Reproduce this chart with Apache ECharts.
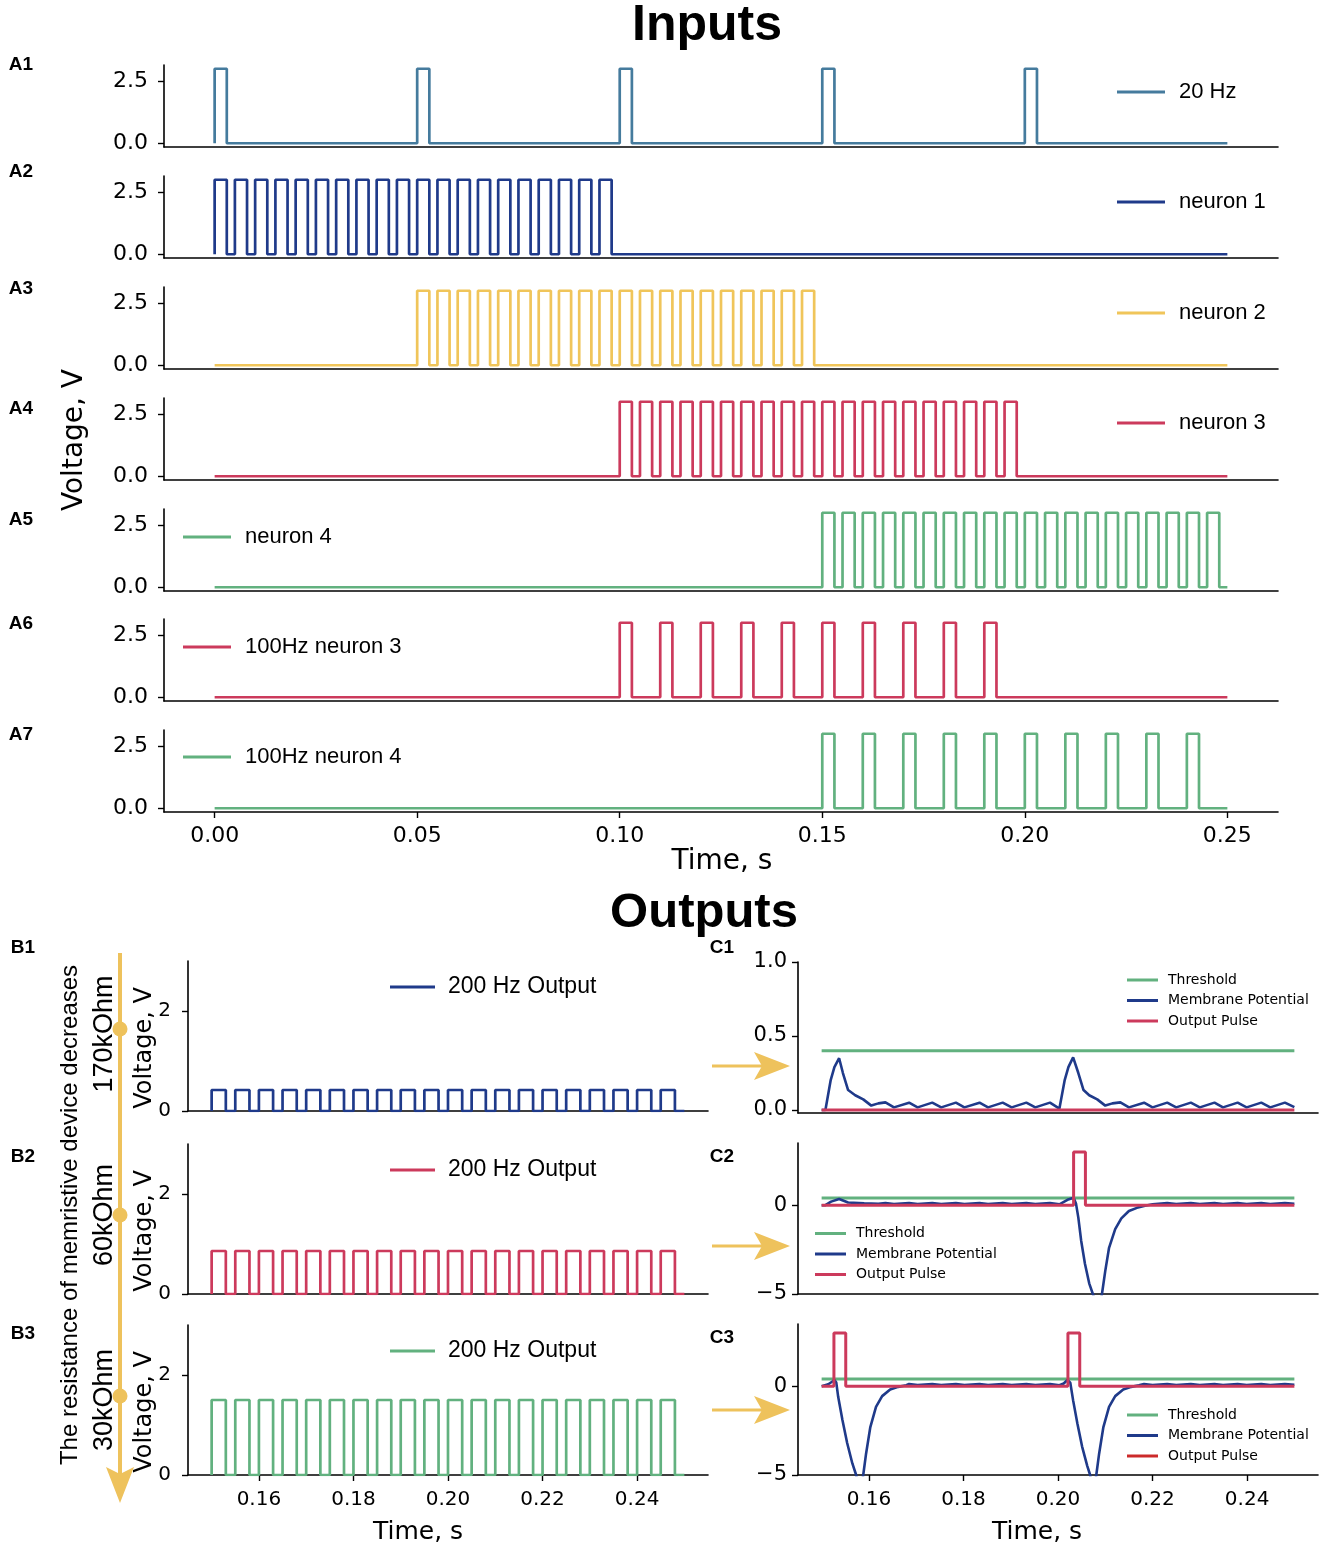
<!DOCTYPE html>
<html><head><meta charset="utf-8">
<script src="https://cdn.jsdelivr.net/npm/echarts@6/dist/echarts.min.js"></script>
<style>html,body{margin:0;padding:0;background:#fff}#c{width:1325px;height:1552px}</style>
</head><body><div id="c"></div>
<script>
// ================= DATA =================
// Inputs (A1-A7): pulse onset times (s), amplitude 3 V, pulse width 3 ms, window 0–0.25 s
const inputWindow = [0.00, 0.25];
const inputAmplitude = 3.0;
const inputPulseWidth = 0.003;
const onsets20Hz = [0.00, 0.05, 0.10, 0.15, 0.20];
const onsetsNeuron1 = [0.000,0.005,0.010,0.015,0.020,0.025,0.030,0.035,0.040,0.045,0.050,0.055,0.060,0.065,0.070,0.075,0.080,0.085,0.090,0.095];
const onsetsNeuron2 = [0.050,0.055,0.060,0.065,0.070,0.075,0.080,0.085,0.090,0.095,0.100,0.105,0.110,0.115,0.120,0.125,0.130,0.135,0.140,0.145];
const onsetsNeuron3 = [0.100,0.105,0.110,0.115,0.120,0.125,0.130,0.135,0.140,0.145,0.150,0.155,0.160,0.165,0.170,0.175,0.180,0.185,0.190,0.195];
const onsetsNeuron4 = [0.150,0.155,0.160,0.165,0.170,0.175,0.180,0.185,0.190,0.195,0.200,0.205,0.210,0.215,0.220,0.225,0.230,0.235,0.240,0.245];
const onsets100HzNeuron3 = [0.10,0.11,0.12,0.13,0.14,0.15,0.16,0.17,0.18,0.19];
const onsets100HzNeuron4 = [0.15,0.16,0.17,0.18,0.19,0.20,0.21,0.22,0.23,0.24];
const inputTimeTicks = [0.00, 0.05, 0.10, 0.15, 0.20, 0.25];
const inputVoltTicks = [0.0, 2.5];

// Outputs (B1-B3): 200 Hz output pulses, amplitude depends on memristor resistance
const outputWindow = [0.15, 0.25];
const outputPulseWidth = 0.003;
const outputOnsets = [0.150,0.155,0.160,0.165,0.170,0.175,0.180,0.185,0.190,0.195,0.200,0.205,0.210,0.215,0.220,0.225,0.230,0.235,0.240,0.245];
const outputAmplitudes = [0.42, 0.86, 1.50];   // 170kOhm, 60kOhm, 30kOhm
const resistanceLabels = ['170kOhm', '60kOhm', '30kOhm'];
const outputTimeTicks = [0.16, 0.18, 0.20, 0.22, 0.24];
const outputVoltTicks = [0, 2];

// C1-C3: threshold, membrane potential [t, V], output spikes
const thresholdLevel = 0.4;
const spikeAmplitude = 3.0;
const spikeWidth = 0.0025;
const spikeOnsetsC1 = [];
const spikeOnsetsC2 = [0.2033];
const spikeOnsetsC3 = [0.1526, 0.2021];
const membraneC1 = [[0.1500,0.000],[0.1508,0.000],[0.1519,0.200],[0.1527,0.290],[0.1537,0.350],[0.1545,0.250],[0.1556,0.135],[0.1571,0.100],[0.1588,0.072],[0.1605,0.030],[0.1620,0.045],[0.1635,0.052],[0.1653,0.018],[0.1685,0.050],[0.1703,0.018],[0.1734,0.050],[0.1753,0.018],[0.1784,0.050],[0.1802,0.018],[0.1834,0.050],[0.1852,0.018],[0.1883,0.050],[0.1902,0.018],[0.1933,0.050],[0.1952,0.018],[0.1983,0.050],[0.2003,0.010],[0.2014,0.200],[0.2022,0.290],[0.2032,0.356],[0.2043,0.250],[0.2054,0.135],[0.2066,0.100],[0.2083,0.072],[0.2100,0.030],[0.2115,0.045],[0.2132,0.052],[0.2150,0.018],[0.2182,0.050],[0.2200,0.018],[0.2231,0.050],[0.2250,0.018],[0.2281,0.050],[0.2300,0.018],[0.2331,0.050],[0.2349,0.018],[0.2380,0.050],[0.2399,0.018],[0.2430,0.050],[0.2449,0.018],[0.2480,0.050],[0.2500,0.020]];
const membraneC2 = [[0.1500,0.00],[0.1508,0.00],[0.1520,0.20],[0.1537,0.35],[0.1556,0.15],[0.1590,0.10],[0.1620,0.08],[0.1635,0.12],[0.1653,0.06],[0.1685,0.12],[0.1703,0.06],[0.1734,0.12],[0.1753,0.06],[0.1784,0.12],[0.1802,0.06],[0.1834,0.12],[0.1852,0.06],[0.1883,0.12],[0.1902,0.06],[0.1933,0.12],[0.1952,0.06],[0.1983,0.12],[0.2003,0.05],[0.2020,0.30],[0.2033,0.42],[0.2038,0.10],[0.2043,-0.70],[0.2049,-2.00],[0.2057,-3.30],[0.2066,-4.40],[0.2075,-5.10],[0.2084,-6.30],[0.2093,-5.00],[0.2100,-3.70],[0.2108,-2.40],[0.2121,-1.35],[0.2134,-0.74],[0.2150,-0.33],[0.2167,-0.15],[0.2184,-0.03],[0.2200,0.05],[0.2231,0.12],[0.2250,0.06],[0.2281,0.12],[0.2300,0.06],[0.2331,0.12],[0.2349,0.06],[0.2380,0.12],[0.2399,0.06],[0.2430,0.12],[0.2449,0.06],[0.2480,0.12],[0.2500,0.08]];
const membraneC3 = [[0.1500,0.00],[0.1514,0.11],[0.1522,0.25],[0.1527,0.35],[0.1531,0.20],[0.1535,-0.60],[0.1544,-1.90],[0.1554,-3.20],[0.1565,-4.35],[0.1573,-5.00],[0.1581,-6.20],[0.1588,-5.00],[0.1594,-3.80],[0.1603,-2.30],[0.1615,-1.16],[0.1628,-0.56],[0.1645,-0.19],[0.1662,-0.04],[0.1679,0.05],[0.1685,0.12],[0.1703,0.06],[0.1734,0.12],[0.1753,0.06],[0.1784,0.12],[0.1802,0.06],[0.1834,0.12],[0.1852,0.06],[0.1883,0.12],[0.1902,0.06],[0.1933,0.12],[0.1952,0.06],[0.1983,0.12],[0.2003,0.05],[0.2012,0.15],[0.2020,0.35],[0.2026,0.20],[0.2032,-0.80],[0.2041,-2.10],[0.2051,-3.40],[0.2062,-4.50],[0.2068,-5.00],[0.2075,-6.20],[0.2081,-5.00],[0.2087,-3.80],[0.2096,-2.30],[0.2108,-1.16],[0.2121,-0.56],[0.2138,-0.19],[0.2155,-0.04],[0.2171,0.05],[0.2182,0.12],[0.2200,0.06],[0.2231,0.12],[0.2250,0.06],[0.2281,0.12],[0.2300,0.06],[0.2331,0.12],[0.2349,0.06],[0.2380,0.12],[0.2399,0.06],[0.2430,0.12],[0.2449,0.06],[0.2480,0.12],[0.2500,0.08]];
const c1VoltTicks = [0.0, 0.5, 1.0];
const c23VoltTicks = [-5, 0];

// ================= BUILD =================
function pulseTrain(onsets, width, amp, t0, t1) {
  const pts = [[t0, 0]];
  onsets.forEach(s => { pts.push([s, 0], [s, amp], [s + width, amp], [s + width, 0]); });
  pts.push([t1, 0]);
  return pts;
}
const C = {
  steel: '#457b9d', navy: '#1f3a8a', yellow: '#f0c55a', crimson: '#cc3a5c',
  green: '#62b17f', red: '#cc2a2a', arrow: '#eec25c'
};
const TICK_FONT = 'DejaVu Sans';
const minusFmt = v => (v < 0 ? '\u2212' + Math.abs(v) : String(v));

const grids = [], xAxes = [], yAxes = [], series = [], legends = [], graphics = [];

function addPanel(p) {
  const i = grids.length;
  grids.push({left: p.left, top: p.top, width: p.width, height: p.height, containLabel: false, outerBoundsMode: 'none'});
  xAxes.push({
    type: 'value', gridIndex: i, min: p.xMin, max: p.xMax,
    axisLine: {show: true, onZero: false, lineStyle: {color: '#000', width: 1.6}},
    axisTick: {show: p.showX, customValues: p.xTicks, length: 6, lineStyle: {color: '#000', width: 1.4}},
    axisLabel: {show: p.showX, customValues: p.xTicks, formatter: v => v.toFixed(2), margin: p.xMargin,
      fontFamily: TICK_FONT, fontSize: p.xFs, color: '#000'},
    splitLine: {show: false}
  });
  yAxes.push({
    type: 'value', gridIndex: i, min: p.yMin, max: p.yMax,
    axisLine: {show: true, onZero: false, lineStyle: {color: '#000', width: 1.6}},
    axisTick: {show: true, customValues: p.yTicks, length: 6, lineStyle: {color: '#000', width: 1.4}},
    axisLabel: {show: true, customValues: p.yTicks, formatter: p.yFmt, margin: p.yMargin,
      fontFamily: TICK_FONT, fontSize: p.yFs, color: '#000'},
    splitLine: {show: false}
  });
  return i;
}
function addLine(i, name, data, color, width, z) {
  series.push({
    type: 'line', name, xAxisIndex: i, yAxisIndex: i, data, color,
    showSymbol: false, symbol: 'none', clip: true, z: z || 2,
    lineStyle: {color, width: width || 2.5}, itemStyle: {color}, animation: false
  });
}
function addLegend(items, left, cy, opt) {
  const L = opt.fs + 2;
  legends.push({
    orient: 'vertical', left, top: cy - L / 2, padding: 0, itemGap: opt.rowGap ? opt.rowGap - L : 0,
    icon: 'rect', itemWidth: opt.iw, itemHeight: 3, selectedMode: false,
    textStyle: {fontFamily: opt.font, fontSize: opt.fs, color: '#000', lineHeight: L, padding: [0, 0, 0, opt.gap]},
    data: items.map(it => ({name: it.name, icon: 'rect', itemStyle: {color: it.color}, lineStyle: {color: it.color}}))
  });
}
function txt(text, x, y, font, rot) {
  graphics.push({type: 'text', x, y, rotation: rot || 0, z: 100,
    style: {text, font, fill: '#000', align: 'center', verticalAlign: 'middle', textAlign: 'center', textVerticalAlign: 'middle'}});
}

// ---- Inputs ----
const inputs = [
  {name: '20 Hz', onsets: onsets20Hz, color: C.steel, lg: [1117, 92]},
  {name: 'neuron 1', onsets: onsetsNeuron1, color: C.navy, lg: [1117, 202]},
  {name: 'neuron 2', onsets: onsetsNeuron2, color: C.yellow, lg: [1117, 313]},
  {name: 'neuron 3', onsets: onsetsNeuron3, color: C.crimson, lg: [1117, 423]},
  {name: 'neuron 4', onsets: onsetsNeuron4, color: C.green, lg: [183, 537]},
  {name: '100Hz neuron 3', onsets: onsets100HzNeuron3, color: C.crimson, lg: [183, 647]},
  {name: '100Hz neuron 4', onsets: onsets100HzNeuron4, color: C.green, lg: [183, 757]}
];
const topTops = [65, 176, 287, 398, 509, 619, 730];
const topLabelY = [65, 172, 289, 409, 520, 624, 735];
inputs.forEach((s, k) => {
  const i = addPanel({left: 164, top: topTops[k], width: 1114, height: 82,
    xMin: -0.0125, xMax: 0.2625, yMin: -0.15, yMax: 3.15,
    xTicks: inputTimeTicks, yTicks: inputVoltTicks, showX: k === 6,
    yFmt: v => v.toFixed(1), xFs: 22, yFs: 22, xMargin: 13, yMargin: 16});
  addLine(i, s.name, pulseTrain(s.onsets, inputPulseWidth, inputAmplitude, inputWindow[0], inputWindow[1]), s.color, 2.7);
  addLegend([{name: s.name, color: s.color}], s.lg[0], s.lg[1], {fs: 22, font: 'Liberation Sans', iw: 48, gap: 9});
  txt('A' + (k + 1), 21, topLabelY[k], 'bold 19px "Liberation Sans"');
});

// ---- Outputs B ----
const bTops = [961, 1144, 1325];
const bColors = [C.navy, C.crimson, C.green];
const bLegendY = [987, 1170, 1351];
const bLabelY = [948, 1157, 1334];
outputAmplitudes.forEach((amp, k) => {
  const i = addPanel({left: 188, top: bTops[k], width: 520, height: 150,
    xMin: 0.145, xMax: 0.255, yMin: 0, yMax: 3,
    xTicks: outputTimeTicks, yTicks: outputVoltTicks, showX: k === 2,
    yFmt: v => String(v), xFs: 20, yFs: 20, xMargin: 15, yMargin: 17});
  addLine(i, '200 Hz Output', pulseTrain(outputOnsets, outputPulseWidth, amp, outputWindow[0], outputWindow[1]), bColors[k], 2.7);
  addLegend([{name: '200 Hz Output', color: bColors[k]}], 390, bLegendY[k], {fs: 23, font: 'Liberation Sans', iw: 45, gap: 8});
  txt('B' + (k + 1), 23, bLabelY[k], 'bold 19px "Liberation Sans"');
  txt('Voltage, V', 145, bTops[k] + 150 - 63, '24px "DejaVu Sans"', Math.PI / 2);
});

// ---- C panels ----
const cSpec = [
  {top: 962, yMin: -0.02, yMax: 1.0, yTicks: c1VoltTicks, yFmt: v => v.toFixed(1), mem: membraneC1, spikes: spikeOnsetsC1,
   lg: [1127, 980], pulseLegendColor: C.crimson},
  {top: 1143, yMin: -5, yMax: 3.5, yTicks: c23VoltTicks, yFmt: minusFmt, mem: membraneC2, spikes: spikeOnsetsC2,
   lg: [815, 1233.5], pulseLegendColor: C.crimson},
  {top: 1324, yMin: -5, yMax: 3.5, yTicks: c23VoltTicks, yFmt: minusFmt, mem: membraneC3, spikes: spikeOnsetsC3,
   lg: [1127, 1415], pulseLegendColor: C.red}
];
const cLabelY = [948, 1157, 1338];
cSpec.forEach((c, k) => {
  const i = addPanel({left: 798, top: c.top, width: 520, height: 151,
    xMin: 0.145, xMax: 0.255, yMin: c.yMin, yMax: c.yMax,
    xTicks: outputTimeTicks, yTicks: c.yTicks, showX: k === 2,
    yFmt: c.yFmt, xFs: 20, yFs: 21, xMargin: 15, yMargin: 11});
  addLine(i, 'Threshold', [[outputWindow[0], thresholdLevel], [outputWindow[1], thresholdLevel]], C.green, 3, 2);
  addLine(i, 'Membrane Potential', c.mem, C.navy, 2.6, 3);
  addLine(i, 'Output Pulse', pulseTrain(c.spikes, spikeWidth, spikeAmplitude, outputWindow[0], outputWindow[1]), C.crimson, 3, 4);
  addLegend([
    {name: 'Threshold', color: C.green},
    {name: 'Membrane Potential', color: C.navy},
    {name: 'Output Pulse', color: c.pulseLegendColor}
  ], c.lg[0], c.lg[1], {fs: 14, font: 'DejaVu Sans', iw: 31, gap: 5, rowGap: 20.5});
  txt('C' + (k + 1), 722, cLabelY[k], 'bold 19px "Liberation Sans"');
});

// ---- titles and axis names ----
txt('Inputs', 707, 26, 'bold 50px "Liberation Sans"');
txt('Outputs', 704, 913, 'bold 49px "Liberation Sans"');
txt('Voltage, V', 75, 440, '28px "DejaVu Sans"', Math.PI / 2);
txt('Time, s', 722, 862, '28px "DejaVu Sans"');
txt('Time, s', 418, 1532, '25px "DejaVu Sans"');
txt('Time, s', 1037, 1532, '25px "DejaVu Sans"');

// ---- resistance arrow ----
graphics.push({type: 'line', z: 50, shape: {x1: 120, y1: 953, x2: 120, y2: 1476}, style: {stroke: C.arrow, lineWidth: 4}});
graphics.push({type: 'polygon', z: 51, shape: {points: [[106, 1467], [120, 1474], [134, 1467], [120, 1503]]}, style: {fill: C.arrow}});
[1029, 1215, 1396].forEach(y => graphics.push({type: 'circle', z: 52, shape: {cx: 120, cy: y, r: 7.5}, style: {fill: C.arrow}}));
txt('The resistance of memristive device decreases', 70, 1215, '24px "Liberation Sans"', Math.PI / 2);
[1034, 1215, 1400].forEach((y, k) => txt(resistanceLabels[k], 105, y, '27px "Liberation Sans"', Math.PI / 2));
// ---- horizontal arrows B -> C ----
[1066, 1246, 1410].forEach(y => {
  graphics.push({type: 'line', z: 50, shape: {x1: 712, y1: y, x2: 765, y2: y}, style: {stroke: C.arrow, lineWidth: 3}});
  graphics.push({type: 'polygon', z: 51, shape: {points: [[754, y - 14], [762, y], [754, y + 14], [790, y]]}, style: {fill: C.arrow}});
});

const chart = echarts.init(document.getElementById('c'), null, {renderer: 'canvas', width: 1325, height: 1552});
chart.setOption({
  animation: false, backgroundColor: '#fff',
  grid: grids, xAxis: xAxes, yAxis: yAxes, series, legend: legends,
  graphic: {elements: graphics}
});
</script></body></html>
